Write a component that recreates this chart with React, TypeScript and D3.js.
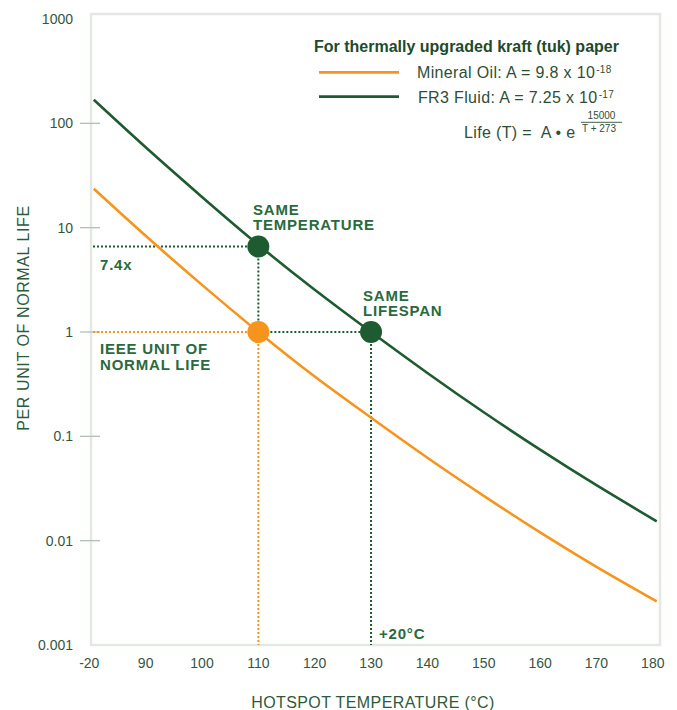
import React from "react";
import * as d3 from "d3";

// ---- data ----
const TEMPS = [80.8, 90, 100, 110, 120, 130, 140, 150, 160, 170, 180.7];
const MINERAL_OIL = [23.6, 8.36, 2.83, 1.0, 0.374, 0.151, 0.0624, 0.0269, 0.012, 0.00562, 0.00262];
const FR3_FLUID = [168, 58.9, 19.7, 6.84, 2.54, 1.0, 0.405, 0.17, 0.0745, 0.034, 0.0153];

const X_TICKS = [80, 90, 100, 110, 120, 130, 140, 150, 160, 170, 180];
const X_TICK_LABELS = ["-20", "90", "100", "110", "120", "130", "140", "150", "160", "170", "180"];
const Y_TICKS = [0.001, 0.01, 0.1, 1, 10, 100, 1000];
const Y_TICK_LABELS = ["0.001", "0.01", "0.1", "1", "10", "100", "1000"];

const SAME_TEMP = { t: 110, fr3: 6.6, mineral: 1 };
const SAME_LIFE = { t: 130, fr3: 1 };

// ---- styling ----
const ORANGE = "#f7941d";
const GREEN = "#1e5b30";
const TEXT_GREEN = "#2a6a3d";
const TICK_TEXT = "#36553f";
const FRAME = "#e3e8e3";
const FONT = "'Liberation Sans', Arial, sans-serif";

const W = 677;
const H = 710;
const FRAME_L = 91;
const FRAME_R = 660;
const FRAME_T = 14;
const FRAME_B = 645;

export default function App() {
  const x = d3.scaleLinear().domain([80, 180]).range([89.3, 652.8]);
  const y = d3.scaleLog().domain([0.001, 1000]).range([645, 19]);

  const mineralPts = TEMPS.map((t, i) => ({ t, v: MINERAL_OIL[i] }));
  const fr3Pts = TEMPS.map((t, i) => ({ t, v: FR3_FLUID[i] }));
  const line = d3
    .line<{ t: number; v: number }>()
    .x((d) => x(d.t))
    .y((d) => y(d.v))
    .curve(d3.curveNatural);

  const dot = { strokeDasharray: "2 2", strokeWidth: 2, fill: "none" } as const;
  const xT = x(SAME_TEMP.t);
  const xL = x(SAME_LIFE.t);
  const yG = y(SAME_TEMP.fr3);
  const y1 = y(SAME_TEMP.mineral);

  return (
    <svg
      width={W}
      height={H}
      style={{ position: "absolute", left: 0, top: 0, background: "#fff" }}
      fontFamily={FONT}
    >
      {/* frame */}
      <rect
        x={FRAME_L}
        y={FRAME_T}
        width={FRAME_R - FRAME_L}
        height={FRAME_B - FRAME_T}
        fill="none"
        stroke={FRAME}
        strokeWidth={2.5}
      />

      {/* y ticks */}
      {Y_TICKS.map((v, i) => (
        <g key={v}>
          {i > 0 && i < Y_TICKS.length - 1 && (
            <line x1={80} x2={100} y1={y(v)} y2={y(v)} stroke="#b4c0b7" strokeWidth={1.3} />
          )}
          <text
            x={73}
            y={Math.max(y(v), 16.5)}
            dy="0.36em"
            textAnchor="end"
            fontSize={14}
            fill={TICK_TEXT}
          >
            {Y_TICK_LABELS[i]}
          </text>
        </g>
      ))}

      {/* x ticks */}
      {X_TICKS.map((t, i) => (
        <text key={t} x={x(t)} y={668} textAnchor="middle" fontSize={14} fill={TICK_TEXT}>
          {X_TICK_LABELS[i]}
        </text>
      ))}

      {/* axis titles */}
      <text x={373} y={708} textAnchor="middle" fontSize={16} letterSpacing={0.4} fill="#2d5a3b">
        HOTSPOT TEMPERATURE (°C)
      </text>
      <text
        transform="translate(29,318) rotate(-90)"
        textAnchor="middle"
        fontSize={16}
        letterSpacing={0.6}
        fill="#2d5a3b"
      >
        PER UNIT OF NORMAL LIFE
      </text>

      {/* dotted reference lines */}
      <line x1={FRAME_L + 2} x2={xT} y1={yG} y2={yG} stroke={GREEN} {...dot} />
      <line x1={xT} x2={xT} y1={yG} y2={y1} stroke={GREEN} {...dot} />
      <line x1={FRAME_L + 2} x2={xT} y1={y1} y2={y1} stroke={ORANGE} {...dot} />
      <line x1={xT} x2={xT} y1={y1} y2={FRAME_B} stroke={ORANGE} {...dot} />
      <line x1={xT} x2={xL} y1={y1} y2={y1} stroke={GREEN} {...dot} />
      <line x1={xL} x2={xL} y1={y(SAME_LIFE.fr3)} y2={FRAME_B} stroke={GREEN} {...dot} />

      {/* curves */}
      <path d={line(mineralPts) || ""} fill="none" stroke={ORANGE} strokeWidth={2.6} />
      <path d={line(fr3Pts) || ""} fill="none" stroke={GREEN} strokeWidth={2.6} />

      {/* markers */}
      <circle cx={xT} cy={yG} r={11} fill={GREEN} />
      <circle cx={xT} cy={y1} r={11} fill={ORANGE} />
      <circle cx={xL} cy={y(SAME_LIFE.fr3)} r={11} fill={GREEN} />

      {/* annotations */}
      <g fontSize={15} fontWeight="bold" fill={TEXT_GREEN} letterSpacing={0.8}>
        <text x={253} y={214.5}>SAME</text>
        <text x={253} y={230}>TEMPERATURE</text>
        <text x={363} y={300.5}>SAME</text>
        <text x={363} y={316}>LIFESPAN</text>
        <text x={100} y={269.5}>7.4x</text>
        <text x={100} y={354}>IEEE UNIT OF</text>
        <text x={100} y={369.5}>NORMAL LIFE</text>
        <text x={379} y={638.5}>+20°C</text>
      </g>

      {/* legend */}
      <text x={314} y={52} fontSize={16} fontWeight="bold" fill="#1f4a2c">
        For thermally upgraded kraft (tuk) paper
      </text>
      <line x1={319} x2={399} y1={72.3} y2={72.3} stroke={ORANGE} strokeWidth={2.8} />
      <line x1={319} x2={399} y1={96.7} y2={96.7} stroke={GREEN} strokeWidth={2.8} />
      <g fontSize={16} fill="#2f4e38" letterSpacing={0.35}>
        <text x={417} y={78.3}>
          Mineral Oil: A = 9.8 x 10
          <tspan fontSize={10} dy={-5} dx={1}>-18</tspan>
        </text>
        <text x={418} y={102.7}>
          FR3 Fluid: A = 7.25 x 10
          <tspan fontSize={10} dy={-5} dx={1}>-17</tspan>
        </text>
        <text x={464} y={138.3} style={{ whiteSpace: "pre" }}>
          {"Life (T) =  A \u2022 e"}
        </text>
      </g>
      <g fontSize={10} fill="#2f4e38" textAnchor="middle">
        <text x={601.5} y={119}>15000</text>
        <line x1={581} x2={622} y1={122.3} y2={122.3} stroke="#2f4e38" strokeWidth={0.9} />
        <text x={599} y={131.5}>T + 273</text>
      </g>
    </svg>
  );
}
